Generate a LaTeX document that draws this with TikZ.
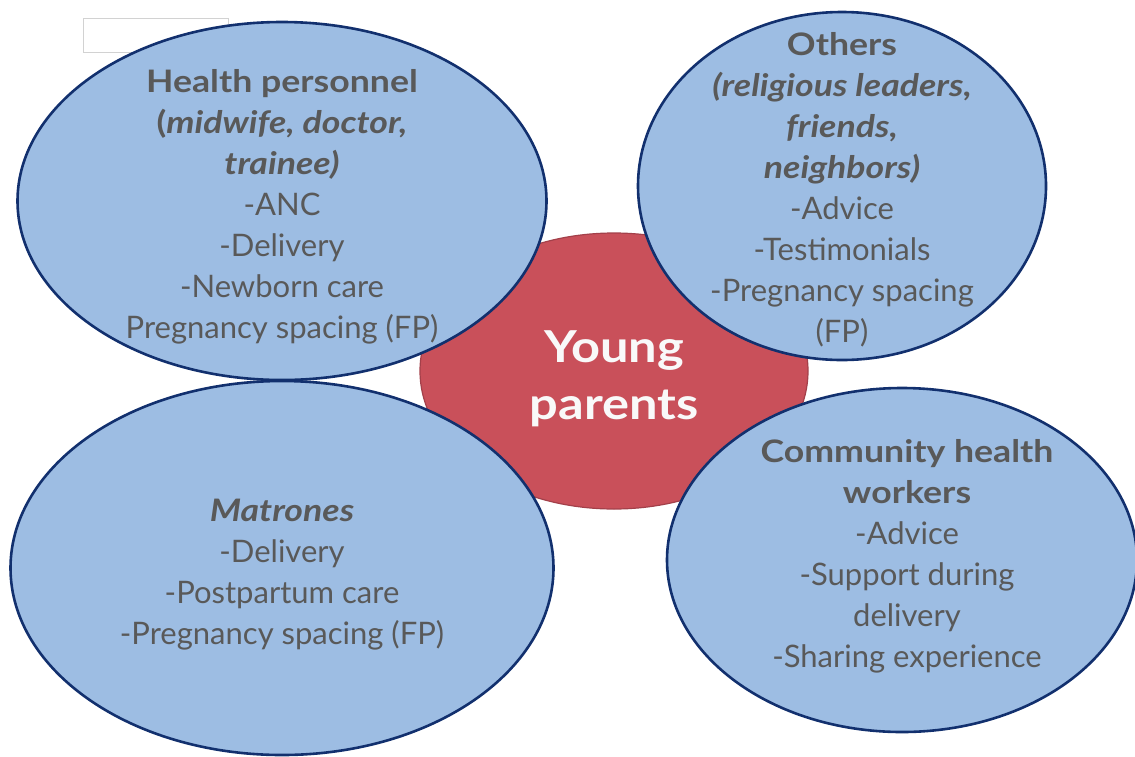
\documentclass[tikz,border=0pt]{standalone}
\usepackage{fontspec}
\setmainfont{Lato}
\newfontfamily\headfont[FakeStretch=1.15]{Lato}
\usetikzlibrary{shapes.geometric}

\definecolor{bubblefill}{HTML}{9DBDE3}
\definecolor{bubbleline}{HTML}{12306E}
\definecolor{parentfill}{HTML}{C9505A}
\definecolor{parentline}{HTML}{A3404A}
\definecolor{labelgray}{HTML}{595959}

\begin{document}
\begin{tikzpicture}[x=1pt,y=-1pt,
    bubble/.style={ellipse,draw=bubbleline,fill=bubblefill,line width=2.6pt,inner sep=0pt},
    bubbletext/.style={align=center,text=labelgray,inner sep=0pt,
        font=\fontsize{31}{41}\selectfont},
    centre/.style={ellipse,draw=parentline,fill=parentfill,line width=1.2pt,inner sep=0pt},
    centretext/.style={align=center,text=white!95!gray,inner sep=0pt,
        font=\headfont\bfseries\fontsize{44}{57}\selectfont}]
    \clip (0,0) rectangle (1135,756);
    % empty label box behind the first bubble
    \node[draw=gray!35,fill=white,minimum width=145pt,minimum height=34pt,inner sep=0pt] (tag) at (155.5,35) {};
    % centre
    \node[centre,minimum width=388pt,minimum height=276pt] (young) at (614,371) {};
    \node[centretext] (young text) at (614,379) {Young\\parents};
    % the four groups around it
    \node[bubble,minimum width=529pt,minimum height=358pt] (health) at (282,201) {};
    \node[bubble,minimum width=408pt,minimum height=348pt] (others) at (842,186) {};
    \node[bubble,minimum width=543pt,minimum height=374pt] (matrones) at (282,568) {};
    \node[bubble,minimum width=470pt,minimum height=344pt] (chw) at (902,560) {};
    % their labels
    \node[bubbletext] (health text) at (282,207)
        {{\headfont\bfseries Health personnel}\\{\headfont\bfseries(\itshape midwife, doctor,}\\{\headfont\bfseries\itshape trainee)}\\-ANC\\-Delivery\\-Newborn care\\Pregnancy spacing (FP)};
    \node[bubbletext] (others text) at (842,190)
        {{\headfont\bfseries Others}\\{\headfont\bfseries\itshape(religious leaders,}\\{\headfont\bfseries\itshape friends,}\\{\headfont\bfseries\itshape neighbors)}\\-Advice\\-Testimonials\\-Pregnancy spacing\\(FP)};
    \node[bubbletext] (matrones text) at (282,575)
        {{\headfont\bfseries\itshape Matrones}\\-Delivery\\-Postpartum care\\-Pregnancy spacing (FP)};
    \node[bubbletext] (chw text) at (907,556)
        {{\headfont\bfseries Community health}\\{\headfont\bfseries workers}\\-Advice\\-Support during\\delivery\\-Sharing experience};
\end{tikzpicture}
\end{document}
